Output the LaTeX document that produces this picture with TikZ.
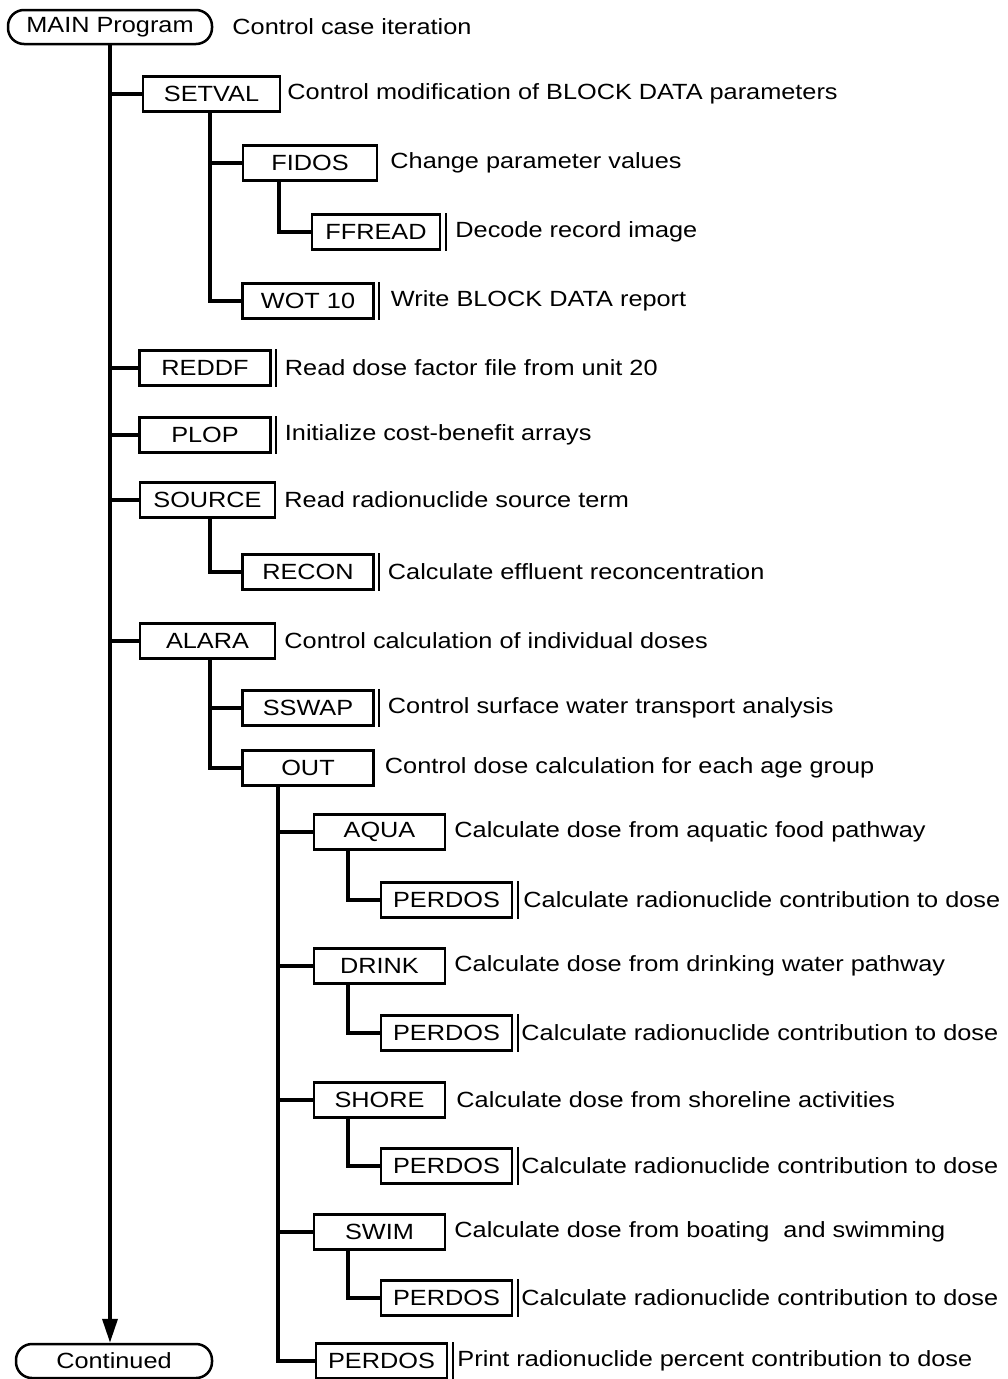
\documentclass[tikz,border=0pt]{standalone}
\usepackage{fontspec}
\setmainfont{Liberation Sans}[FakeStretch=1.15]
\usetikzlibrary{arrows.meta,positioning}
\tikzstyle{routine_node} = [draw, rectangle, line width=2.5pt, minimum width=131pt, minimum height=35pt, inner sep=0pt, text centered]
\tikzstyle{term_node} = [draw, rectangle, rounded corners=16pt, line width=2.5pt, minimum height=34pt, inner sep=0pt, text centered]
\tikzstyle{desc} = [anchor=west, inner sep=0pt]
\tikzstyle{conn} = [line width=3.2pt]

\begin{document}
\begin{tikzpicture}[x=1pt, y=-1pt, font=\fontsize{22}{26}\selectfont]
	\useasboundingbox (0,0) rectangle (1008,1379);
	\node[term_node, minimum width=204pt](main) at (110,27) {MAIN Program};
	\node[term_node, minimum width=196pt](cont) at (114,1361) {Continued};

	\node[routine_node, minimum width=137pt](setval) at (211.5,94) {SETVAL};
	\node[routine_node, minimum width=134pt](fidos) at (310,163) {FIDOS};
	\node[routine_node, minimum width=128pt](ffread) at (376,232) {FFREAD};
	\node[routine_node](wot) at (308,301) {WOT 10};
	\node[routine_node](reddf) at (205,368) {REDDF};
	\node[routine_node](plop) at (205,435) {PLOP};
	\node[routine_node, minimum width=135pt](source) at (207.5,500) {SOURCE};
	\node[routine_node](recon) at (308,572) {RECON};
	\node[routine_node, minimum width=135pt](alara) at (207.5,641) {ALARA};
	\node[routine_node](sswap) at (308,708) {SSWAP};
	\node[routine_node](out) at (308,768) {OUT};
	\node[routine_node](aqua) at (379.5,832) {AQUA};
	\node[routine_node](perdos1) at (446.5,900) {PERDOS};
	\node[routine_node](drink) at (379.5,966) {DRINK};
	\node[routine_node](perdos2) at (446.5,1033) {PERDOS};
	\node[routine_node](shore) at (379.5,1100) {SHORE};
	\node[routine_node](perdos3) at (446.5,1166) {PERDOS};
	\node[routine_node](swim) at (379.5,1232) {SWIM};
	\node[routine_node](perdos4) at (446.5,1298) {PERDOS};
	\node[routine_node](perdos5) at (381.5,1361) {PERDOS};

	% descriptions
	\node[desc, right=19pt of main] (d_main) {Control case iteration};
	\node[desc, right=6pt of setval] (d_setval) {Control modification of BLOCK DATA parameters};
	\node[desc, right=12pt of fidos] (d_fidos) {Change parameter values};
	\node[desc, right=14pt of ffread] (d_ffread) {Decode record image};
	\node[desc, right=16pt of wot] (d_wot) {Write BLOCK DATA report};
	\node[desc, right=13pt of reddf] (d_reddf) {Read dose factor file from unit 20};
	\node[desc, right=13pt of plop] (d_plop) {Initialize cost-benefit arrays};
	\node[desc, right=8pt of source] (d_source) {Read radionuclide source term};
	\node[desc, right=13pt of recon] (d_recon) {Calculate effluent reconcentration};
	\node[desc, right=8pt of alara] (d_alara) {Control calculation of individual doses};
	\node[desc, right=13pt of sswap] (d_sswap) {Control surface water transport analysis};
	\node[desc, right=10pt of out] (d_out) {Control dose calculation for each age group};
	\node[desc, right=8pt of aqua] (d_aqua) {Calculate dose from aquatic food pathway};
	\node[desc, right=10pt of perdos1] (d_perdos1) {Calculate radionuclide contribution to dose};
	\node[desc, right=8pt of drink] (d_drink) {Calculate dose from drinking water pathway};
	\node[desc, right=8pt of perdos2] (d_perdos2) {Calculate radionuclide contribution to dose};
	\node[desc, right=10pt of shore] (d_shore) {Calculate dose from shoreline activities};
	\node[desc, right=8pt of perdos3] (d_perdos3) {Calculate radionuclide contribution to dose};
	\node[desc, right=8pt of swim] (d_swim) {Calculate dose from boating\ \ and swimming};
	\node[desc, right=8pt of perdos4] (d_perdos4) {Calculate radionuclide contribution to dose};
	\node[desc, right=9pt of perdos5] (d_perdos5) {Print radionuclide percent contribution to dose};

	% library routines get a second right edge
	\foreach \n in {ffread,wot,reddf,plop,recon,sswap,perdos1,perdos2,perdos3,perdos4,perdos5}
		\draw[line width=2pt] ([xshift=4.5pt]\n.north east) -- ([xshift=4.5pt]\n.south east);

	% draw lines
	\draw[conn, line width=3.6pt, -{Triangle[length=24pt, width=15pt]}] (main.south) -- (main.south |- cont.north);
	\draw[conn] (main.south |- setval.west) -- (setval.west);
	\draw[conn] (main.south |- reddf.west) -- (reddf.west);
	\draw[conn] (main.south |- plop.west) -- (plop.west);
	\draw[conn] (main.south |- source.west) -- (source.west);
	\draw[conn] (main.south |- alara.west) -- (alara.west);
	\draw[conn] ([xshift=-1.5pt]setval.south) |- (fidos.west);
	\draw[conn] ([xshift=-1.5pt]setval.south) |- (wot.west);
	\draw[conn] ([xshift=-31pt]fidos.south) |- (ffread.west);
	\draw[conn] ([xshift=2.5pt]source.south) |- (recon.west);
	\draw[conn] ([xshift=2.5pt]alara.south) |- (sswap.west);
	\draw[conn] ([xshift=2.5pt]alara.south) |- (out.west);
	\draw[conn] ([xshift=-30pt]out.south) |- (aqua.west);
	\draw[conn] ([xshift=-30pt]out.south) |- (drink.west);
	\draw[conn] ([xshift=-30pt]out.south) |- (shore.west);
	\draw[conn] ([xshift=-30pt]out.south) |- (swim.west);
	\draw[conn] ([xshift=-30pt]out.south) |- (perdos5.west);
	\draw[conn] ([xshift=-31.5pt]aqua.south) |- (perdos1.west);
	\draw[conn] ([xshift=-31.5pt]drink.south) |- (perdos2.west);
	\draw[conn] ([xshift=-31.5pt]shore.south) |- (perdos3.west);
	\draw[conn] ([xshift=-31.5pt]swim.south) |- (perdos4.west);
\end{tikzpicture}
\end{document}
